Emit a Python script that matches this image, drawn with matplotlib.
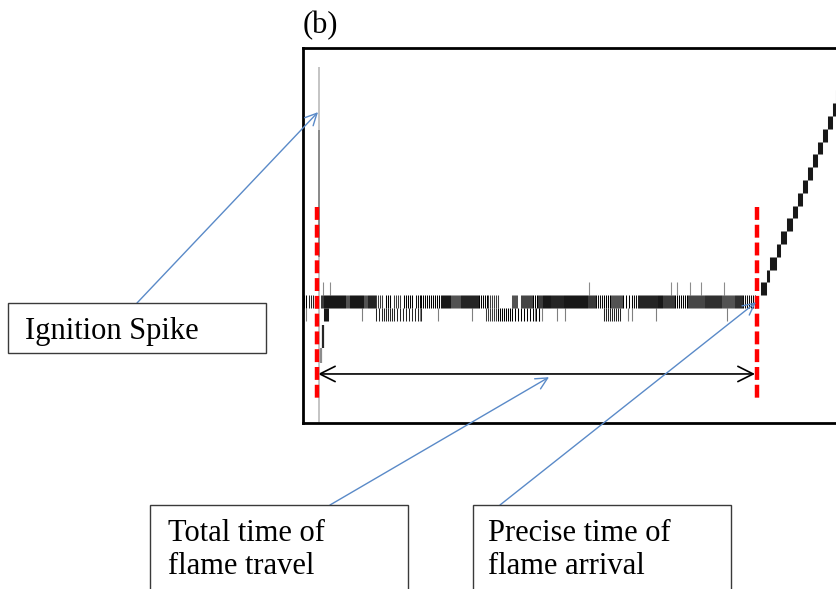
import numpy as np
import matplotlib
matplotlib.use("Agg")
import matplotlib.pyplot as plt
from matplotlib.patches import Rectangle, FancyArrowPatch

# ---- signal record: time in samples, amplitude in ADC counts ----
ignition_time = 14          # red marker at ignition
arrival_time = 454          # red marker at flame arrival
marker_top, marker_bottom = 7.9, -7.0
travel_start, travel_end = 15, 452
travel_level = -5.15

# ignition spike (time, low count, high count)
spike_full = (16, -8.9, 18.8)
spike_core = (16, 4.0, 13.9)
spike_recovery = [(17.5, -4.3, -3.1, 0.45), (19.5, -3.1, -1.3, 0.85)]

# toggling between 0 and +1 counts: (start, end, darkness)
upper_runs = [
    (0, 3, 0.6), (5, 10, 0.45), (17, 20, 0.8), (20, 42, 0.95), (42, 46, 0.7),
    (46, 60, 0.95), (60, 64, 0.7), (64, 72, 0.9), (72, 80, 0.4), (82, 88, 0.55),
    (90, 98, 0.4), (100, 110, 0.6), (112, 117, 0.5), (117, 137, 0.65),
    (137, 147, 0.95), (147, 157, 0.7), (157, 175, 0.9), (175, 184, 0.6),
    (184, 195, 0.4), (208, 214, 0.7), (217, 229, 0.75), (229, 234, 0.55),
    (234, 239, 0.8), (239, 247, 0.95), (247, 260, 0.9), (260, 284, 0.95),
    (284, 292, 0.8), (292, 300, 0.5), (300, 307, 0.65), (307, 319, 0.7),
    (319, 330, 0.35), (330, 334, 0.5), (334, 354, 0.9), (354, 359, 0.95),
    (359, 371, 0.8), (371, 384, 0.65), (384, 401, 0.75), (401, 418, 0.85),
    (418, 431, 0.7), (431, 439, 0.85), (439, 452, 0.5),
]

# toggling between 0 and -1 counts
lower_runs = [
    (20, 25, 0.95), (72, 80, 0.3), (80, 90, 0.45), (90, 120, 0.3),
    (182, 194, 0.4), (194, 208, 0.6), (208, 237, 0.35), (300, 317, 0.45),
]
lower_ticks = [3, 59, 117, 135, 169, 232, 236, 239, 254, 262, 325, 329, 353, 424]

# single excursions up to +2 counts
upper_spikes = [20, 27, 286, 368, 374, 387, 398, 421]

# rising signal after arrival: step start times, one count per step
ramp_times = [457, 463, 466, 473, 477, 483, 489, 494, 499, 504, 509, 514,
              519, 524, 529, 532, 537, 542]
ramp_levels = [1, 2, 3, 4, 5, 6, 7, 8, 9, 10, 11, 12, 13, 14, 15, 16, 17]

# callout boxes (left, top, right, bottom in figure pixels from top-left)
callout_lines = [["Ignition Spike"], ["Total time of", "flame travel"],
                 ["Precise time of", "flame arrival"]]
callout_boxes = [(8, 303, 266, 353), (150, 505, 408, 600), (473, 505, 731, 600)]
callout_anchor = [(25, 339), (168, 541), (488, 541)]
callout_tail = [(137, 303), (330, 505), (500, 505)]
callout_target = [(15, 15.3), (246, -5.4), (453, 0.45)]
LINE_STEP = 33

W, H = 836, 589
BLUE = "#5A8AC8"

fig = plt.figure(figsize=(W / 100, H / 100), dpi=100)
ax = fig.add_axes([303 / W, 1 - 423 / H, 560 / W, (423 - 48) / H])
ax.set_xlim(0, 560)
ax.set_ylim(-8.98, 20.31)
ax.set_xticks([])
ax.set_yticks([])
for side in ("left", "top", "bottom"):
    ax.spines[side].set_linewidth(2.0)
ax.spines["right"].set_visible(False)


def draw_runs(runs, lo, hi):
    # a run of rapid toggling: sparser, darker strokes where it is lighter
    for x0, x1, shade in runs:
        step = max(1, int(round(1.0 / shade)))
        xs = np.arange(x0, x1, step) + 0.5
        alpha = min(1.0, shade * step * 0.95)
        ax.vlines(xs, lo, hi, colors="black", alpha=alpha, linewidth=0.75)


draw_runs(upper_runs, 0, 1)
draw_runs(lower_runs, -1, 0)
ax.vlines(lower_ticks, -1, 0, colors="black", alpha=0.5, linewidth=0.8)
ax.vlines(upper_spikes, 1, 2, colors="black", alpha=0.45, linewidth=0.8)

# ramp blocks
for t0, t1, k in zip(ramp_times[:-1], ramp_times[1:], ramp_levels):
    draw_runs([(t0, t1, 0.95)], k, k + 1)

# ignition spike
ax.vlines(spike_full[0], spike_full[1], spike_full[2], colors="#b4b4b4", linewidth=1.1)
ax.vlines(spike_core[0], spike_core[1], spike_core[2], colors="#7a7a7a", linewidth=1.1)
for x, lo, hi, shade in spike_recovery:
    ax.vlines(x, lo, hi, colors="black", alpha=shade, linewidth=1.6)

# red markers
for t in (ignition_time, arrival_time):
    ax.plot([t, t], [marker_top, marker_bottom], color="red", linewidth=3.2,
            linestyle=(0, (2.9, 1.1)), solid_capstyle="butt", dash_capstyle="butt")

# travel time arrow
ax.add_patch(FancyArrowPatch((travel_start, travel_level), (travel_end, travel_level),
                             arrowstyle="<->,head_length=1.1,head_width=0.55",
                             mutation_scale=10, color="black", linewidth=1.2,
                             shrinkA=0, shrinkB=0))


def fig_xy(px, py):
    return px / W, 1 - py / H


# callouts
for lines, box, anchor, tail, target in zip(callout_lines, callout_boxes, callout_anchor,
                                            callout_tail, callout_target):
    l, t, r, b = box
    fig.add_artist(Rectangle(fig_xy(l, b), (r - l) / W, (b - t) / H,
                             transform=fig.transFigure, facecolor="white",
                             edgecolor="#3a3a3a", linewidth=1.0))
    for i, line in enumerate(lines):
        fig.text(*fig_xy(anchor[0], anchor[1] + i * LINE_STEP), line, fontsize=22,
                 family="Liberation Serif", ha="left", va="baseline")
    ax.annotate("", xy=target, xycoords="data",
                xytext=(tail[0], H - tail[1]), textcoords="figure pixels",
                arrowprops=dict(arrowstyle="->,head_length=0.7,head_width=0.35",
                                color=BLUE, linewidth=1.0, shrinkA=0, shrinkB=0,
                                mutation_scale=12))

fig.text(*fig_xy(303, 33), "(b)", fontsize=22, family="Liberation Serif",
         ha="left", va="baseline")

fig.savefig("out.png", dpi=100)
